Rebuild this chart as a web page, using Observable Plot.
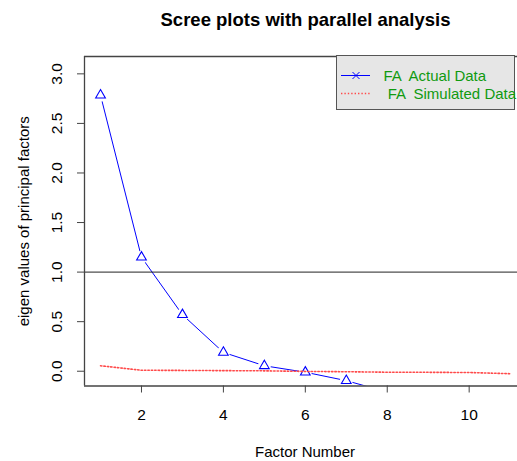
<!DOCTYPE html>
<html>
<head>
<meta charset="utf-8">
<script src="https://cdn.jsdelivr.net/npm/d3@7"></script>
<script src="https://cdn.jsdelivr.net/npm/@observablehq/plot@0.6"></script>
<style>
  body { margin: 0; background: #fff; }
  #wrap { position: relative; width: 517px; height: 461px; font-family: "Liberation Sans", Arial, sans-serif; }
  svg text { white-space: pre; }
  #legend { position: absolute; left: 336px; top: 55px; width: 179px; height: 55px;
            background: #e6e6e6; border: 1.3px solid #555; box-sizing: border-box; }
  #legend svg { position: absolute; left: 0; top: 0; overflow: visible; }
</style>
</head>
<body>
<div id="wrap"></div>
<script>
// ---- data ----
const factors = [1, 2, 3, 4, 5, 6, 7, 8];
const actual = [2.785, 1.15, 0.57, 0.19, 0.055, -0.01, -0.095, -0.21];
const simFactors = [1, 2, 3, 4, 5, 6, 7, 8, 9, 10, 11];
const simulated = [0.055, 0.01, 0.008, 0.006, 0.004, -0.002, -0.005, -0.01, -0.011, -0.013, -0.025];
const xTicks = [2, 4, 6, 8, 10];
const yTicks = [0, 0.5, 1, 1.5, 2, 2.5, 3];
const xDomain = [0.609, 11.18];
const yDomain = [-0.149, 3.175];
const refLine = [1];
const title = "Scree plots with parallel analysis";
const xLabel = "Factor Number";
const yLabel = "eigen values of principal factors";
const legendLabels = ["FA  Actual Data", " FA  Simulated Data"];

const actualData = factors.map((f, i) => ({ f, v: actual[i] }));
const simData = simFactors.map((f, i) => ({ f, v: simulated[i] }));

const font = "'Liberation Sans', Arial, sans-serif";
const red = "#ff4a4a";
const chart = Plot.plot({
  width: 517,
  height: 461,
  marginTop: 56,
  marginBottom: 75.5,
  marginLeft: 84,
  marginRight: 0,
  style: { fontFamily: font, fontSize: "15px", background: "white", color: "#000" },
  x: { domain: xDomain },
  y: { domain: yDomain },
  marks: [
    Plot.line(actualData, { x: "f", y: "v", stroke: "#0000ff", strokeWidth: 1, clip: true }),
    Plot.dot(actualData, { x: "f", y: "v", r: 6.5, fill: "white", stroke: null, symbol: "circle", clip: true }),
    Plot.dot(actualData, { x: "f", y: "v", r: 3.6, symbol: "triangle", stroke: "#0000ff", strokeWidth: 1.1, fill: "none", clip: true }),
    Plot.line(simData, { x: "f", y: "v", stroke: red, strokeWidth: 1.6, strokeDasharray: "1.4,2", clip: true }),
    Plot.ruleY(refLine, { stroke: "#222", strokeWidth: 1 }),
    Plot.ruleY([yDomain[0], yDomain[1]], { stroke: "#444", strokeWidth: 1.3 }),
    Plot.ruleX([xDomain[0]], { stroke: "#444", strokeWidth: 1.3 }),
    Plot.axisY({ ticks: yTicks, tickSize: 7, tickPadding: 16, tickRotate: -90, tickFormat: d3.format(".1f"),
                 fontSize: 15.5, label: null, stroke: "#444" }),
    Plot.axisX({ ticks: xTicks, tickSize: 7, tickPadding: 16, tickFormat: d3.format("d"),
                 fontSize: 15.5, label: null, stroke: "#444" }),
    Plot.text([title], { text: d => d, frameAnchor: "top", dx: 4.5, dy: -31, lineAnchor: "bottom",
                 fontSize: 18.5, fontWeight: "bold", fill: "#000" }),
    Plot.text([xLabel], { text: d => d, frameAnchor: "bottom", dx: 4, dy: 71, lineAnchor: "bottom",
                 fontSize: 15, fill: "#000" }),
    Plot.text([yLabel], { text: d => d, frameAnchor: "left", dx: -55.5, lineAnchor: "bottom", textAnchor: "middle",
                 rotate: -90, fontSize: 15, fill: "#000" })
  ]
});
const wrap = document.getElementById("wrap");
wrap.appendChild(chart);

// ---- legend ----
const legend = document.createElement("div");
legend.id = "legend";
legend.innerHTML = `
<svg width="179" height="55">
  <line x1="4" x2="33" y1="19.5" y2="19.5" stroke="#0000ff" stroke-width="1"/>
  <path d="M15.5 16 L22.5 23 M15.5 23 L22.5 16" stroke="#0000ff" stroke-width="1" fill="none"/>
  <line x1="4" x2="33" y1="37.5" y2="37.5" stroke="${red}" stroke-width="1.6" stroke-dasharray="1.4,2"/>
  <text x="46.5" y="25" font-size="15" fill="#109a10" font-family="${font}">${legendLabels[0]}</text>
  <text x="46.5" y="42.5" font-size="15" fill="#109a10" font-family="${font}">${legendLabels[1]}</text>
</svg>`;
wrap.appendChild(legend);
</script>
</body>
</html>
